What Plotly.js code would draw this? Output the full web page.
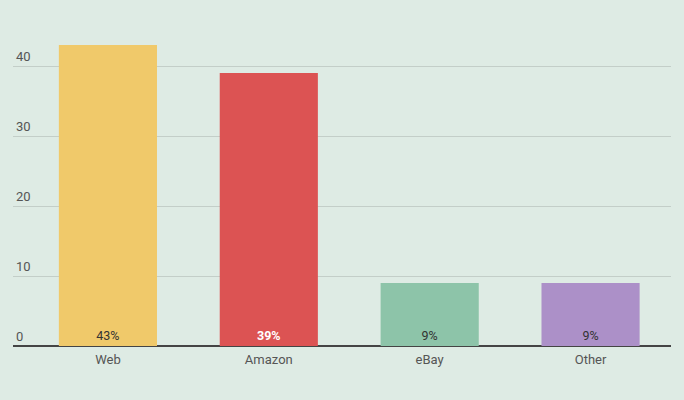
<!DOCTYPE html>
<html>
<head>
<meta charset="utf-8">
<script src="https://cdn.plot.ly/plotly-3.0.1.min.js"></script>
<style>html,body{margin:0;padding:0;background:#deebe4;}#chart{width:684px;height:400px;}</style>
</head>
<body>
<div id="chart"></div>
<script>
const categories = ["Web", "Amazon", "eBay", "Other"];
const shares = [43, 39, 9, 9];
const barColors = ["#f0c96a", "#dc5353", "#8dc4a9", "#ac90c8"];
const labelColors = ["#333333", "#ffffff", "#333333", "#333333"];
const labelWeights = ["normal", "bold", "normal", "normal"];
const yTicks = [0, 10, 20, 30, 40];

const trace = {
  type: "bar",
  x: categories,
  y: shares,
  width: 0.61,
  marker: {color: barColors},
  text: shares.map(v => v + "%"),
  textposition: "inside",
  insidetextanchor: "start",
  textangle: 0,
  constraintext: "none",
  textfont: {family: "Roboto, sans-serif", size: 12.5, color: labelColors, weight: labelWeights},
  hoverinfo: "none"
};

const layout = {
  width: 684,
  height: 400,
  margin: {l: 13, r: 13, t: 24, b: 54},
  paper_bgcolor: "#deebe4",
  plot_bgcolor: "#deebe4",
  showlegend: false,
  font: {family: "Roboto, sans-serif", size: 12, color: "#555555"},
  xaxis: {
    type: "category",
    range: [-0.59, 3.5],
    showgrid: false,
    showline: false,
    zeroline: false,
    ticks: "",
    ticklabelstandoff: 4,
    tickfont: {size: 13, color: "#555555"},
    fixedrange: true
  },
  yaxis: {
    range: [0, 46],
    tickvals: yTicks,
    ticktext: yTicks.map(String),
    ticklabelposition: "inside top",
    ticks: "",
    showgrid: true,
    gridcolor: "#c3cec8",
    gridwidth: 1,
    zeroline: true,
    zerolinecolor: "#444444",
    zerolinewidth: 2,
    showline: false,
    tickfont: {size: 13, color: "#555555"},
    fixedrange: true
  }
};

Plotly.newPlot("chart", [trace], layout, {displayModeBar: false, staticPlot: true});
</script>
</body>
</html>
